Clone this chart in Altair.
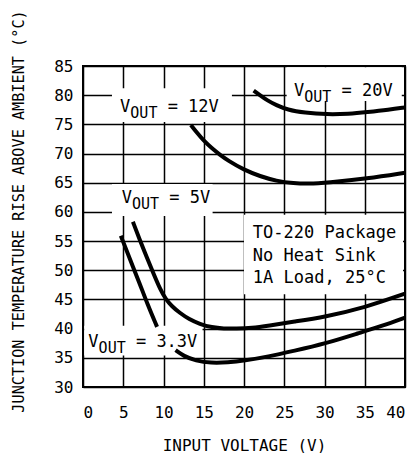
import altair as alt
import pandas as pd

# ---- curve data (input voltage V, junction temperature rise °C) ----
x_20 = [21.2, 22.0, 22.9, 24.0, 25.4, 27.5, 30.3, 33.0, 35.3, 38.0, 40.0]
y_20 = [80.8, 80.0, 79.1, 78.3, 77.5, 77.0, 76.7, 76.8, 77.1, 77.5, 77.9]
x_12 = [13.4, 14.2, 15.0, 16.0, 17.0, 18.0, 20.0, 22.0, 24.0, 26.2, 28.0, 30.3, 35.3, 40.0]
y_12 = [74.9, 73.5, 72.2, 70.9, 69.8, 68.8, 67.2, 66.1, 65.3, 64.9, 64.8, 65.0, 65.7, 66.7]
x_5 = [6.2, 7.0, 7.9, 8.8, 9.6, 10.3, 11.0, 12.0, 13.2, 14.5, 16.0, 17.5, 19.0, 21.0,
       23.0, 26.2, 30.0, 35.0, 40.0]
y_5 = [58.3, 55.4, 52.3, 49.3, 46.7, 45.0, 43.9, 42.7, 41.6, 40.8, 40.2, 40.0, 40.0, 40.1,
       40.5, 41.2, 42.0, 43.6, 46.0]
x_33a = [4.7, 5.8, 7.0, 8.0, 9.2]
y_33a = [55.9, 52.0, 47.9, 44.2, 40.3]
x_33b = [11.5, 12.5, 14.0, 15.9, 18.0, 20.0, 23.0, 26.2, 30.0, 34.4, 37.0, 40.0]
y_33b = [36.3, 35.3, 34.5, 34.1, 34.2, 34.5, 35.2, 36.2, 37.4, 39.3, 40.4, 41.9]

# ---- annotation labels ----
label_x = [4.6, 26.2, 4.8, 0.66]
label_y = [77.2, 79.9, 61.5, 36.8]
label_suffix = ["= 12V", "= 20V", "= 5V", "= 3.3V"]

# white backgrounds behind labels (hide grid lines)
box_x = [3.6, 25.3, 3.6, 0.15, 20.0]
box_x2 = [18.5, 39.6, 16.1, 14.85, 39.75]
box_y = [75.4, 79.0, 59.3, 35.4, 45.9]
box_y2 = [81.2, 84.8, 64.8, 40.5, 59.5]

info_lines = ["TO-220 Package", "No Heat Sink", "1A Load, 25°C"]
info_x = [21.1, 21.1, 21.1]
info_y = [55.5, 51.6, 47.8]

x_ticks = list(range(0, 41, 5))
y_ticks = list(range(30, 86, 5))

FONT = "DejaVu Sans Mono"

rows = []
for name, xs, ys in [("20V", x_20, y_20), ("12V", x_12, y_12), ("5V", x_5, y_5),
                     ("3.3a", x_33a, y_33a), ("3.3b", x_33b, y_33b)]:
    for a, b in zip(xs, ys):
        rows.append({"series": name, "vin": a, "temp": b})
curves = pd.DataFrame(rows)

labels = pd.DataFrame({"x": label_x, "y": label_y, "suffix": label_suffix})
boxes = pd.DataFrame({"x": box_x, "x2": box_x2, "y": box_y, "y2": box_y2})
info = pd.DataFrame({"x": info_x, "y": info_y, "t": info_lines})

xscale = alt.Scale(domain=[0, 40], nice=False, zero=False)
yscale = alt.Scale(domain=[30, 85], nice=False, zero=False)

xaxis = alt.Axis(values=x_ticks, title="INPUT VOLTAGE (V)", grid=True,
                 ticks=False, domain=False, labelPadding=17, titleY=63,
                 titleBaseline="alphabetic", labelOverlap=False)
yaxis = alt.Axis(values=y_ticks, title="JUNCTION TEMPERATURE RISE ABOVE AMBIENT (°C)",
                 grid=True, ticks=False, domain=False, labelPadding=10, labelOverlap=False,
                 titleX=-65, titleY=145, titleBaseline="middle", titleFontSize=15.2)


def X(field):
    return alt.X(field, scale=xscale, axis=xaxis)


def Y(field):
    return alt.Y(field, scale=yscale, axis=yaxis)


lines = alt.Chart(curves).mark_line(color="black", strokeWidth=4, interpolate="basis").encode(
    x=X("vin:Q"), y=Y("temp:Q"), detail="series:N",
)

rects = alt.Chart(boxes).mark_rect(color="white").encode(
    x=X("x:Q"), x2="x2:Q", y=Y("y:Q"), y2="y2:Q",
)

t_v = alt.Chart(labels).mark_text(font=FONT, fontSize=17, align="left", baseline="alphabetic",
                                  color="black").encode(
    x=X("x:Q"), y=Y("y:Q"), text=alt.value("V"))
t_out = alt.Chart(labels).mark_text(font=FONT, fontSize=15, align="left", baseline="alphabetic",
                                    color="black", dx=10.3, dy=6).encode(
    x=X("x:Q"), y=Y("y:Q"), text=alt.value("OUT"))
t_suf = alt.Chart(labels).mark_text(font=FONT, fontSize=17, align="left", baseline="alphabetic",
                                    color="black", dx=47.6).encode(
    x=X("x:Q"), y=Y("y:Q"), text="suffix:N")
t_info = alt.Chart(info).mark_text(font=FONT, fontSize=17, align="left", baseline="alphabetic",
                                   color="black").encode(
    x=X("x:Q"), y=Y("y:Q"), text="t:N")

chart = alt.layer(rects, lines, t_v, t_out, t_suf, t_info).properties(
    width=322, height=321,
    autosize=alt.AutoSizeParams(type="none"),
    padding={"left": 75, "top": 58, "right": 4, "bottom": 70},
    background="white",
).configure_view(
    stroke="black", strokeWidth=2
).configure_axis(
    gridColor="black", gridWidth=1.5, gridOpacity=1,
    labelFont=FONT, labelFontSize=16, labelColor="black",
    titleFont=FONT, titleFontSize=16, titleFontWeight="normal", titleColor="black",
)

chart.save("out.html", embed_options={"renderer": "svg", "actions": False})
